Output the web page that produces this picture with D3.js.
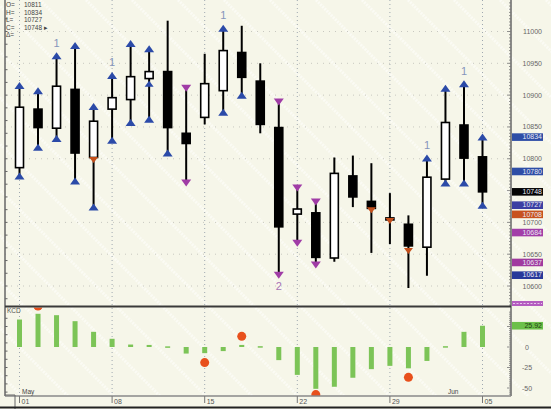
<!DOCTYPE html>
<html><head><meta charset="utf-8">
<script src="https://cdn.jsdelivr.net/npm/d3@7/dist/d3.min.js"></script>
<style>body{margin:0;background:#f6f6e9}svg{display:block}text{font-family:"Liberation Sans",Arial,sans-serif}</style>
</head><body><svg id="c" width="551" height="409"></svg>
<script>
// ---------- data ----------
const opens  = [10786,10878,10848,10909,10802,10878,10893,10926,10937,10840,10865,10907,10967,10922,10849,10713,10715,10644,10773,10733,10707,10697,10661,10768,10853,10803];
const highs  = [10915,10907,10962,10978,10882,10931,10981,10973,11017,10911,10965,11005,11009,10950,10889,10754,10732,10802,10805,10793,10746,10711,10801,10911,10918,10834];
const lows   = [10773,10818,10832,10765,10724,10829,10857,10862,10809,10762,10854,10873,10900,10840,10617,10667,10633,10638,10724,10652,10666,10597,10616,10762,10762,10727];
const closes = [10881,10849,10914,10809,10859,10896,10929,10937,10849,10824,10918,10970,10928,10854,10693,10721,10645,10777,10740,10722,10704,10663,10771,10857,10801,10748];
// marker kinds at high / low: b = blue up-triangle, m = magenta down-triangle
const highMarks = ["b","b","b","b","b","b","b","b","","m","","b","","","m","m","m","","","","","","b","b","b","b"];
const lowMarks  = ["b","b","b","b","b","b","b","b","b","m","","b","b","","m","m","m","","","","","","","b","b","b"];
const redMarks  = [{i:4,v:10798},{i:19,v:10719},{i:20,v:10702},{i:21,v:10655}];
const midBlue   = [{i:7,v:10918}];
const countLabels = [{i:2,t:"1",pos:"high"},{i:5,t:"1",pos:"high"},{i:11,t:"1",pos:"high"},{i:22,t:"1",pos:"high"},{i:24,t:"1",pos:"high"},{i:14,t:"2",pos:"low"}];
const tickIdx    = [0,5,10,15,20,25];
const tickLabels = ["01","08","15","22","29","05"];
const monthLabels = [{i:0,t:"May"},{i:23,t:"Jun"}];
const priceTicks = [11000,10950,10900,10850,10800,10700,10650,10600];
const priceTags  = [{v:10834,c:"#2e4ea6"},{v:10780,c:"#2e4ea6"},{v:10748,c:"#050505"},{v:10727,c:"#3b3fa3"},{v:10708,c:"#c8521f"},{v:10684,c:"#a23ea8"},{v:10637,c:"#a03a9f"},{v:10617,c:"#27399a"}];
const info = [["O=","10811"],["H=","10834"],["L=","10727"],["C=","10748 \u25B8"],["\u0394=",""]];
const oscValues = [33.5,40.5,38.8,31.5,18.5,10,3,2.5,0.8,-8,-7.5,-5,2.5,1,-16,-34,-51,-48.5,-37.5,-27,-23,-26,-17,1,18.5,25.9];
const oscDots = [{i:1,v:50},{i:10,v:-19},{i:12,v:13},{i:16,v:-58},{i:21,v:-37}];
const oscTicks = [0,-25,-50];
const oscTag = 25.92;

// ---------- layout ----------
const svg = d3.select("#c");
const W=551,H=409, L=5, R=511, DIV=306.5, BOT=396;
const x = d3.scaleLinear().domain([0,25]).range([19.5,482.5]);
const y = d3.scaleLinear().domain([10600,11000]).range([286,31.5]);
const yo = d3.scaleLinear().domain([-50,25]).range([388,326.5]);

svg.append("rect").attr("width",W).attr("height",H).attr("fill","#f6f6e9");
const defs = svg.append("defs");
defs.append("clipPath").attr("id","cpTop").append("rect").attr("x",L).attr("y",0).attr("width",R-L).attr("height",DIV);
defs.append("clipPath").attr("id","cpLow").append("rect").attr("x",L).attr("y",DIV+1).attr("width",R-L).attr("height",BOT-DIV-1);
defs.append("clipPath").attr("id","cpAll").append("rect").attr("x",0).attr("y",0).attr("width",W).attr("height",BOT);

// diagonal watermark stripes
const stripes = svg.append("g").attr("clip-path","url(#cpAll)");
d3.range(-420,560,46).forEach(x0=>{
  stripes.append("line").attr("x1",x0).attr("y1",0).attr("x2",x0+409).attr("y2",409)
    .attr("stroke","#ffffff").attr("stroke-width",3).attr("stroke-opacity",0.5).attr("stroke-dasharray","2,1");
});

// grid
const grid = svg.append("g");
tickIdx.forEach(i=>{
  grid.append("line").attr("x1",x(i)).attr("x2",x(i)).attr("y1",0).attr("y2",BOT)
    .attr("stroke","#9fa8b0").attr("stroke-dasharray","1,3");
});
priceTicks.forEach(v=>{
  grid.append("line").attr("x1",L).attr("x2",R).attr("y1",y(v)).attr("y2",y(v))
    .attr("stroke","#c8c8c0").attr("stroke-dasharray","1,5");
});

// ---------- candles ----------
const gC = svg.append("g").attr("clip-path","url(#cpTop)");
const idx = d3.range(opens.length);
gC.selectAll(".wick").data(idx).join("line")
  .attr("x1",i=>x(i)).attr("x2",i=>x(i)).attr("y1",i=>y(highs[i])).attr("y2",i=>y(lows[i]))
  .attr("stroke","#000").attr("stroke-width",2);
const bw=8;
gC.selectAll(".body").data(idx).join("rect")
  .attr("x",i=>x(i)-bw/2).attr("width",bw)
  .attr("y",i=>y(Math.max(opens[i],closes[i])))
  .attr("height",i=>Math.max(2,Math.abs(y(opens[i])-y(closes[i]))))
  .attr("fill",i=>closes[i]>=opens[i]?"#ffffff":"#000")
  .attr("stroke","#000").attr("stroke-width",1.6);

function triUp(cx,cy,w,h){return `M${cx-w/2},${cy+h/2}L${cx+w/2},${cy+h/2}L${cx},${cy-h/2}Z`;}
function triDown(cx,cy,w,h){return `M${cx-w/2},${cy-h/2}L${cx+w/2},${cy-h/2}L${cx},${cy+h/2}Z`;}
const colB="#2b4aa8", colM="#a03ca6", colR="#c4501c";
idx.forEach(i=>{
  [[highMarks[i],highs[i]],[lowMarks[i],lows[i]]].forEach(([k,v])=>{
    if(k==="b") gC.append("path").attr("d",triUp(x(i),y(v),10,7)).attr("fill",colB);
    if(k==="m") gC.append("path").attr("d",triDown(x(i),y(v),10,7)).attr("fill",colM);
  });
});
redMarks.forEach(d=>gC.append("path").attr("d",triDown(x(d.i),y(d.v),9,6)).attr("fill",colR));
midBlue.forEach(d=>gC.append("path").attr("d",triUp(x(d.i),y(d.v),9,6)).attr("fill",colB));
countLabels.forEach(d=>{
  const yy = d.pos==="high" ? y(highs[d.i])-9 : y(lows[d.i])+15;
  svg.append("text").attr("x",x(d.i)).attr("y",yy).attr("text-anchor","middle")
    .attr("font-size",11).attr("fill",d.pos==="high"?"#8595bb":"#a874b4").text(d.t);
});

// ---------- lower panel ----------
const gL = svg.append("g").attr("clip-path","url(#cpLow)");
gL.selectAll(".bar").data(idx).join("rect")
  .attr("x",i=>x(i)-2.5).attr("width",5)
  .attr("y",i=>Math.min(yo(0),yo(oscValues[i])))
  .attr("height",i=>Math.max(1.5,Math.abs(yo(oscValues[i])-yo(0))))
  .attr("fill","#7cc457");
gL.selectAll(".dot").data(oscDots).join("circle")
  .attr("cx",d=>x(d.i)).attr("cy",d=>yo(d.v)).attr("r",4.5).attr("fill","#e8501c");
svg.append("text").attr("x",7).attr("y",313).attr("font-size",6.5).attr("fill","#555").text("KCD");

// ---------- axes ----------
const ax = svg.append("g");
ax.append("line").attr("x1",L).attr("x2",L).attr("y1",0).attr("y2",BOT).attr("stroke","#666").attr("stroke-width",1.5);
ax.append("line").attr("x1",R).attr("x2",R).attr("y1",0).attr("y2",BOT).attr("stroke","#666").attr("stroke-width",1.5);
d3.range(10560,11040,20).forEach(v=>{ if(y(v)>2&&y(v)<DIV-2) ax.append("line").attr("x1",L).attr("x2",L+2.5).attr("y1",y(v)).attr("y2",y(v)).attr("stroke","#666");});
d3.range(-55,45,10).forEach(v=>{ if(yo(v)>DIV+2&&yo(v)<BOT-2) ax.append("line").attr("x1",L).attr("x2",L+2.5).attr("y1",yo(v)).attr("y2",yo(v)).attr("stroke","#666");});
d3.range(10550,11050,5).forEach(v=>{ const yy=y(v); if(yy>1&&yy<DIV-1) ax.append("line").attr("x1",R-(v%50===0?4:2)).attr("x2",R).attr("y1",yy).attr("y2",yy).attr("stroke","#777").attr("stroke-width",0.8);});
d3.range(-60,45,2.5).forEach(v=>{ const yy=yo(v); if(yy>DIV+1&&yy<BOT-1) ax.append("line").attr("x1",R-(v%25===0?4:2)).attr("x2",R).attr("y1",yy).attr("y2",yy).attr("stroke","#777").attr("stroke-width",0.8);});
ax.append("line").attr("x1",L).attr("x2",R).attr("y1",DIV).attr("y2",DIV).attr("stroke","#3a3a3a").attr("stroke-width",2);
ax.append("rect").attr("x",512).attr("y",301).attr("width",31).attr("height",5).attr("fill","#b45cc0");
ax.append("line").attr("x1",513).attr("x2",542).attr("y1",303.5).attr("y2",303.5).attr("stroke","#e6c6ea").attr("stroke-dasharray","2,1.5");
ax.append("line").attr("x1",L).attr("x2",R).attr("y1",BOT).attr("y2",BOT).attr("stroke","#888").attr("stroke-width",1.5);
tickIdx.forEach((i,k)=>{
  ax.append("line").attr("x1",x(i)).attr("x2",x(i)).attr("y1",BOT).attr("y2",BOT+7).attr("stroke","#777");
  ax.append("text").attr("x",x(i)+2).attr("y",BOT+8).attr("font-size",7).attr("fill","#555").text(tickLabels[k]);
});
monthLabels.forEach(d=>ax.append("text").attr("x",x(d.i)+2.5).attr("y",BOT-2).attr("font-size",6.5).attr("fill","#444").text(d.t));
ax.append("path").attr("d",`M${L},${BOT-1}L15,${BOT-1}L15,409`).attr("fill","none").attr("stroke","#666");
ax.append("line").attr("x1",0).attr("x2",W).attr("y1",407.5).attr("y2",407.5).attr("stroke","#222").attr("stroke-width",2);

// right price labels (tags nudged away from nearby plain labels)
const fs=7;
priceTicks.forEach(v=>ax.append("text").attr("x",542).attr("y",y(v)+2.5).attr("text-anchor","end").attr("font-size",fs).attr("fill","#666").text(v));
priceTags.forEach(d=>{
  let cy = y(d.v);
  priceTicks.forEach(t=>{ const ty=y(t); const dd=cy-ty; if(Math.abs(dd)<8){ cy = ty + (dd>=0?8:-8); } });
  ax.append("rect").attr("x",512).attr("y",cy-3.8).attr("width",31).attr("height",7.6).attr("fill",d.c);
  ax.append("text").attr("x",542).attr("y",cy+2.3).attr("text-anchor","end").attr("font-size",fs).attr("fill","#e8e8f4").text(d.v);
});
oscTicks.forEach(v=>ax.append("text").attr("x",527).attr("y",yo(v)+2.5).attr("text-anchor","middle").attr("font-size",fs).attr("fill","#666").text(v));
ax.append("rect").attr("x",512).attr("y",yo(oscTag)-3.8).attr("width",31).attr("height",7.6).attr("fill","#6cc04a");
ax.append("text").attr("x",542).attr("y",yo(oscTag)+2.3).attr("text-anchor","end").attr("font-size",fs).attr("fill","#1f3f10").text(oscTag.toFixed(2));

// info text
info.forEach((r,k)=>{
  svg.append("text").attr("x",6).attr("y",7+k*7.5).attr("font-size",6.5).attr("fill","#444").text(r[0]);
  svg.append("text").attr("x",24).attr("y",7+k*7.5).attr("font-size",6.5).attr("fill","#444").text(r[1]);
});
</script></body></html>
